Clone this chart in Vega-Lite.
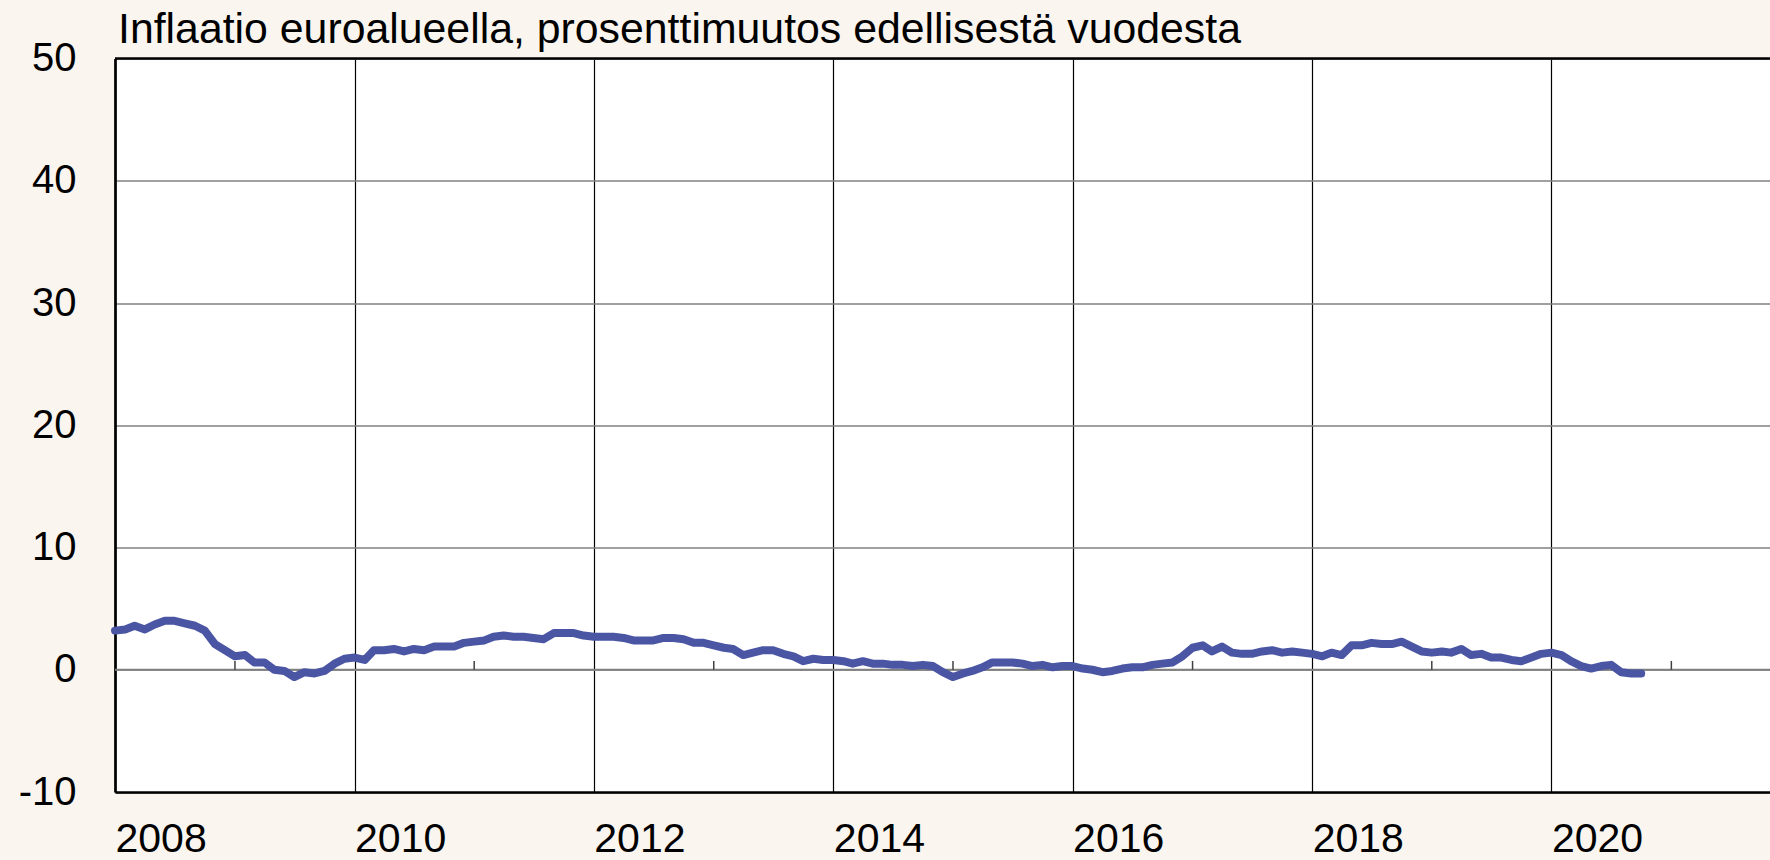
{
  "$schema": "https://vega.github.io/schema/vega-lite/v6.json",
  "autosize": {"type": "none"},
  "width": 1655,
  "height": 733.5,
  "padding": {"left": 115, "top": 58.5, "right": 0, "bottom": 68},
  "background": "#faf5ef",
  "config": {
    "view": {"fill": "white", "stroke": null},
    "font": "Liberation Sans"
  },
  "title": {
    "text": "Inflaatio euroalueella, prosenttimuutos edellisestä vuodesta",
    "anchor": "start",
    "frame": "group",
    "fontSize": 42.8,
    "fontWeight": "normal",
    "font": "Liberation Sans",
    "color": "black",
    "baseline": "alphabetic",
    "dx": 3,
    "offset": -47.5
  },
  "layer": [
    {
      "data": {"values": [{"k": 1}]},
      "mark": {"type": "rule", "color": "#808080", "strokeWidth": 2},
      "encoding": {"y": {"datum": 0, "type": "quantitative"}}
    },
    {
      "data": {"values": [
        {"d": "2009-01-01"}, {"d": "2011-01-01"}, {"d": "2013-01-01"}, {"d": "2015-01-01"},
        {"d": "2017-01-01"}, {"d": "2019-01-01"}, {"d": "2021-01-01"}
      ]},
      "mark": {"type": "rule", "color": "#404040", "strokeWidth": 1.5},
      "encoding": {
        "x": {"field": "d", "type": "temporal"},
        "y": {"datum": 0, "type": "quantitative"},
        "y2": {"datum": 0.72}
      }
    },
    {
      "data": {"values": [
        {"d":"2008-01-01","v":3.2},{"d":"2008-02-01","v":3.3},{"d":"2008-03-01","v":3.6},{"d":"2008-04-01","v":3.3},{"d":"2008-05-01","v":3.7},{"d":"2008-06-01","v":4.0},{"d":"2008-07-01","v":4.0},{"d":"2008-08-01","v":3.8},{"d":"2008-09-01","v":3.6},{"d":"2008-10-01","v":3.2},{"d":"2008-11-01","v":2.1},{"d":"2008-12-01","v":1.6},
        {"d":"2009-01-01","v":1.1},{"d":"2009-02-01","v":1.2},{"d":"2009-03-01","v":0.6},{"d":"2009-04-01","v":0.6},{"d":"2009-05-01","v":0.0},{"d":"2009-06-01","v":-0.1},{"d":"2009-07-01","v":-0.6},{"d":"2009-08-01","v":-0.2},{"d":"2009-09-01","v":-0.3},{"d":"2009-10-01","v":-0.1},{"d":"2009-11-01","v":0.5},{"d":"2009-12-01","v":0.9},
        {"d":"2010-01-01","v":1.0},{"d":"2010-02-01","v":0.8},{"d":"2010-03-01","v":1.6},{"d":"2010-04-01","v":1.6},{"d":"2010-05-01","v":1.7},{"d":"2010-06-01","v":1.5},{"d":"2010-07-01","v":1.7},{"d":"2010-08-01","v":1.6},{"d":"2010-09-01","v":1.9},{"d":"2010-10-01","v":1.9},{"d":"2010-11-01","v":1.9},{"d":"2010-12-01","v":2.2},
        {"d":"2011-01-01","v":2.3},{"d":"2011-02-01","v":2.4},{"d":"2011-03-01","v":2.7},{"d":"2011-04-01","v":2.8},{"d":"2011-05-01","v":2.7},{"d":"2011-06-01","v":2.7},{"d":"2011-07-01","v":2.6},{"d":"2011-08-01","v":2.5},{"d":"2011-09-01","v":3.0},{"d":"2011-10-01","v":3.0},{"d":"2011-11-01","v":3.0},{"d":"2011-12-01","v":2.8},
        {"d":"2012-01-01","v":2.7},{"d":"2012-02-01","v":2.7},{"d":"2012-03-01","v":2.7},{"d":"2012-04-01","v":2.6},{"d":"2012-05-01","v":2.4},{"d":"2012-06-01","v":2.4},{"d":"2012-07-01","v":2.4},{"d":"2012-08-01","v":2.6},{"d":"2012-09-01","v":2.6},{"d":"2012-10-01","v":2.5},{"d":"2012-11-01","v":2.2},{"d":"2012-12-01","v":2.2},
        {"d":"2013-01-01","v":2.0},{"d":"2013-02-01","v":1.8},{"d":"2013-03-01","v":1.7},{"d":"2013-04-01","v":1.2},{"d":"2013-05-01","v":1.4},{"d":"2013-06-01","v":1.6},{"d":"2013-07-01","v":1.6},{"d":"2013-08-01","v":1.3},{"d":"2013-09-01","v":1.1},{"d":"2013-10-01","v":0.7},{"d":"2013-11-01","v":0.9},{"d":"2013-12-01","v":0.8},
        {"d":"2014-01-01","v":0.8},{"d":"2014-02-01","v":0.7},{"d":"2014-03-01","v":0.5},{"d":"2014-04-01","v":0.7},{"d":"2014-05-01","v":0.5},{"d":"2014-06-01","v":0.5},{"d":"2014-07-01","v":0.4},{"d":"2014-08-01","v":0.4},{"d":"2014-09-01","v":0.3},{"d":"2014-10-01","v":0.4},{"d":"2014-11-01","v":0.3},{"d":"2014-12-01","v":-0.2},
        {"d":"2015-01-01","v":-0.6},{"d":"2015-02-01","v":-0.3},{"d":"2015-03-01","v":-0.1},{"d":"2015-04-01","v":0.2},{"d":"2015-05-01","v":0.6},{"d":"2015-06-01","v":0.6},{"d":"2015-07-01","v":0.6},{"d":"2015-08-01","v":0.5},{"d":"2015-09-01","v":0.3},{"d":"2015-10-01","v":0.4},{"d":"2015-11-01","v":0.2},{"d":"2015-12-01","v":0.3},
        {"d":"2016-01-01","v":0.3},{"d":"2016-02-01","v":0.1},{"d":"2016-03-01","v":0.0},{"d":"2016-04-01","v":-0.2},{"d":"2016-05-01","v":-0.1},{"d":"2016-06-01","v":0.1},{"d":"2016-07-01","v":0.2},{"d":"2016-08-01","v":0.2},{"d":"2016-09-01","v":0.4},{"d":"2016-10-01","v":0.5},{"d":"2016-11-01","v":0.6},{"d":"2016-12-01","v":1.1},
        {"d":"2017-01-01","v":1.8},{"d":"2017-02-01","v":2.0},{"d":"2017-03-01","v":1.5},{"d":"2017-04-01","v":1.9},{"d":"2017-05-01","v":1.4},{"d":"2017-06-01","v":1.3},{"d":"2017-07-01","v":1.3},{"d":"2017-08-01","v":1.5},{"d":"2017-09-01","v":1.6},{"d":"2017-10-01","v":1.4},{"d":"2017-11-01","v":1.5},{"d":"2017-12-01","v":1.4},
        {"d":"2018-01-01","v":1.3},{"d":"2018-02-01","v":1.1},{"d":"2018-03-01","v":1.4},{"d":"2018-04-01","v":1.2},{"d":"2018-05-01","v":2.0},{"d":"2018-06-01","v":2.0},{"d":"2018-07-01","v":2.2},{"d":"2018-08-01","v":2.1},{"d":"2018-09-01","v":2.1},{"d":"2018-10-01","v":2.3},{"d":"2018-11-01","v":1.9},{"d":"2018-12-01","v":1.5},
        {"d":"2019-01-01","v":1.4},{"d":"2019-02-01","v":1.5},{"d":"2019-03-01","v":1.4},{"d":"2019-04-01","v":1.7},{"d":"2019-05-01","v":1.2},{"d":"2019-06-01","v":1.3},{"d":"2019-07-01","v":1.0},{"d":"2019-08-01","v":1.0},{"d":"2019-09-01","v":0.8},{"d":"2019-10-01","v":0.7},{"d":"2019-11-01","v":1.0},{"d":"2019-12-01","v":1.3},
        {"d":"2020-01-01","v":1.4},{"d":"2020-02-01","v":1.2},{"d":"2020-03-01","v":0.7},{"d":"2020-04-01","v":0.3},{"d":"2020-05-01","v":0.1},{"d":"2020-06-01","v":0.3},{"d":"2020-07-01","v":0.4},{"d":"2020-08-01","v":-0.2},{"d":"2020-09-01","v":-0.3},{"d":"2020-10-01","v":-0.3}
      ]},
      "mark": {"type": "line", "color": "#4a55a3", "strokeWidth": 8, "strokeCap": "round", "strokeJoin": "round"},
      "encoding": {
        "x": {
          "field": "d",
          "type": "temporal",
          "scale": {
            "type": "utc",
            "domain": [{"year": 2008, "month": 1, "date": 1, "utc": true}, {"year": 2021, "month": 10, "date": 29, "utc": true}]
          },
          "axis": {
            "title": null,
            "orient": "bottom",
            "values": [
              {"year": 2008, "utc": true}, {"year": 2010, "utc": true}, {"year": 2012, "utc": true},
              {"year": 2014, "utc": true}, {"year": 2016, "utc": true}, {"year": 2018, "utc": true},
              {"year": 2020, "utc": true}
            ],
            "format": "%Y",
            "grid": true,
            "gridColor": "black",
            "gridWidth": 1.2,
            "gridOpacity": 1,
            "ticks": false,
            "tickSize": 0,
            "domain": true,
            "domainColor": "black",
            "domainWidth": 2.7,
            "labelFont": "Liberation Sans",
            "labelFontSize": 41,
            "labelColor": "black",
            "labelAlign": "left",
            "labelBaseline": "alphabetic",
            "labelPadding": 59,
            "labelFlush": false,
            "labelOverlap": false,
            "labelBound": false
          }
        },
        "y": {
          "field": "v",
          "type": "quantitative",
          "scale": {"domain": [-10, 50], "nice": false, "zero": false},
          "axis": {
            "title": null,
            "values": [-10, 0, 10, 20, 30, 40, 50],
            "labelExpr": "'' + datum.value",
            "grid": true,
            "gridColor": "#808080",
            "gridWidth": 1.5,
            "gridOpacity": 1,
            "ticks": false,
            "tickSize": 0,
            "domain": true,
            "domainColor": "black",
            "domainWidth": 2.7,
            "labelFont": "Liberation Sans",
            "labelFontSize": 40,
            "labelColor": "black",
            "labelPadding": 39,
            "labelFlush": false,
            "labelOverlap": false,
            "labelBound": false
          }
        }
      }
    },
    {
      "data": {"values": [{"k": 1}]},
      "mark": {"type": "rule", "color": "black", "strokeWidth": 2.5},
      "encoding": {"y": {"datum": 50, "type": "quantitative"}}
    }
  ]
}
